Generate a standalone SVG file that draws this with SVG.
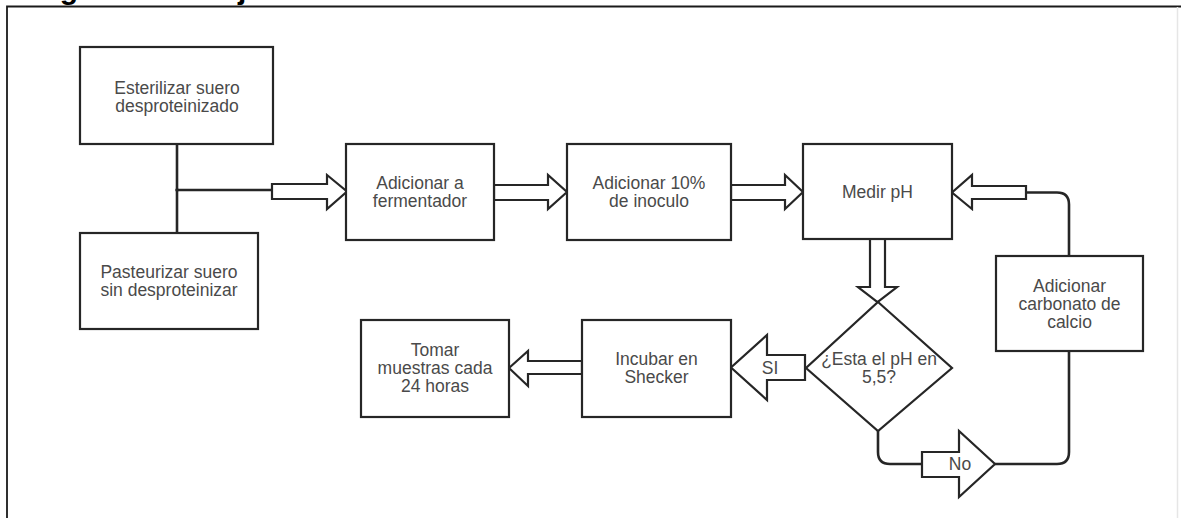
<svg xmlns="http://www.w3.org/2000/svg" width="1181" height="518" viewBox="0 0 1181 518">
  <style>
    .box { fill: #ffffff; stroke: #262626; stroke-width: 2.2; }
    .arrow { fill: #ffffff; stroke: #262626; stroke-width: 2.2; stroke-linejoin: miter; }
    .line { fill: none; stroke: #262626; stroke-width: 2.6; }
    .lbl { font-family: "Liberation Sans", Arial, sans-serif; font-size: 17.5px; fill: #4a4a4a; text-anchor: middle; }
    .title { font-family: "Liberation Sans", Arial, sans-serif; font-size: 30px; font-weight: bold; fill: #000000; }
  </style>

  <rect x="0" y="0" width="1181" height="518" fill="#ffffff"/>

  <!-- page heading, clipped by the top edge -->
  <text class="title" x="13" y="-1">Diagrama de flujo fermentación</text>

  <!-- outer frame -->
  <g id="frame">
    <path d="M7,518 V6.5 H1181" fill="none" stroke="#1a1a1a" stroke-width="1.8"/>
    <line x1="1177.5" y1="7" x2="1177.5" y2="518" stroke="#e6e6e6" stroke-width="1.5"/>
  </g>

  <!-- connectors -->
  <g id="connectors">
    <!-- merge of the two feed steps -->
    <path class="line" d="M177,144 V233"/>
    <path class="line" d="M177,190 H273"/>
    <circle cx="177" cy="190" r="1.8" fill="#262626"/>
    <path class="arrow" d="M272,184 H327 V175 L347,191.5 L327,209 V199 H272 Z"/>

    <!-- main line -->
    <path class="arrow" d="M494,185 H548 V175 L567,192 L548,209 V200 H494 Z"/>
    <path class="arrow" d="M731,185 H785 V175 L803,192 L785,209 V200 H731 Z"/>

    <!-- down to decision -->
    <path class="arrow" d="M870,239 V287 H858 L877.5,302 L897,287 H885 V239 Z"/>

    <!-- SI branch -->
    <path class="arrow" d="M805,355 H767 V335 L731,367.5 L767,400 V380 H805 Z"/>
    <text class="lbl" x="770" y="374">SI</text>

    <!-- incubate to sampling -->
    <path class="arrow" d="M582,361 H528 V351 L509,368 L528,386 V374 H582 Z"/>

    <!-- No branch -->
    <path class="line" d="M878,431 V452 Q878,464 890,464 H923"/>
    <path class="arrow" d="M922,452 H959 V431 L995,464 L959,497 V477 H922 Z"/>
    <text class="lbl" x="960" y="470">No</text>
    <path class="line" d="M995,464 H1057 Q1069,464 1069,452 V351"/>

    <!-- calcium carbonate back to pH measurement -->
    <path class="line" d="M1025,192.5 H1057 Q1069,192.5 1069,204.5 V256"/>
    <path class="arrow" d="M1026,186 H972 V175 L952,192.5 L972,209 V199 H1026 Z"/>
  </g>

  <g id="esterilizar">
    <rect class="box" x="80" y="47" width="193" height="97"/>
    <text class="lbl" x="177" y="94">Esterilizar suero</text>
    <text class="lbl" x="177" y="112">desproteinizado</text>
  </g>

  <g id="pasteurizar">
    <rect class="box" x="80" y="233" width="178" height="96"/>
    <text class="lbl" x="169" y="278">Pasteurizar suero</text>
    <text class="lbl" x="169" y="296">sin desproteinizar</text>
  </g>

  <g id="fermentador">
    <rect class="box" x="346" y="144" width="148" height="96"/>
    <text class="lbl" x="420" y="189">Adicionar a</text>
    <text class="lbl" x="420" y="207">fermentador</text>
  </g>

  <g id="inoculo">
    <rect class="box" x="567" y="144" width="164" height="96"/>
    <text class="lbl" x="649" y="189">Adicionar 10%</text>
    <text class="lbl" x="649" y="207">de inoculo</text>
  </g>

  <g id="medir-ph">
    <rect class="box" x="803" y="144" width="149" height="95"/>
    <text class="lbl" x="877.5" y="198">Medir pH</text>
  </g>

  <g id="carbonato">
    <rect class="box" x="996" y="256" width="147" height="95"/>
    <text class="lbl" x="1069.5" y="292">Adicionar</text>
    <text class="lbl" x="1069.5" y="310">carbonato de</text>
    <text class="lbl" x="1069.5" y="328">calcio</text>
  </g>

  <g id="decision">
    <path class="box" d="M878,302 L952,368 L878,431 L806,368 Z"/>
    <text class="lbl" x="879" y="365">¿Esta el pH en</text>
    <text class="lbl" x="879" y="383">5,5?</text>
  </g>

  <g id="incubar">
    <rect class="box" x="582" y="320" width="149" height="97"/>
    <text class="lbl" x="656.5" y="365">Incubar en</text>
    <text class="lbl" x="656.5" y="383">Shecker</text>
  </g>

  <g id="tomar-muestras">
    <rect class="box" x="361" y="320" width="148" height="97"/>
    <text class="lbl" x="435" y="356">Tomar</text>
    <text class="lbl" x="435" y="374">muestras cada</text>
    <text class="lbl" x="435" y="392">24 horas</text>
  </g>
</svg>
